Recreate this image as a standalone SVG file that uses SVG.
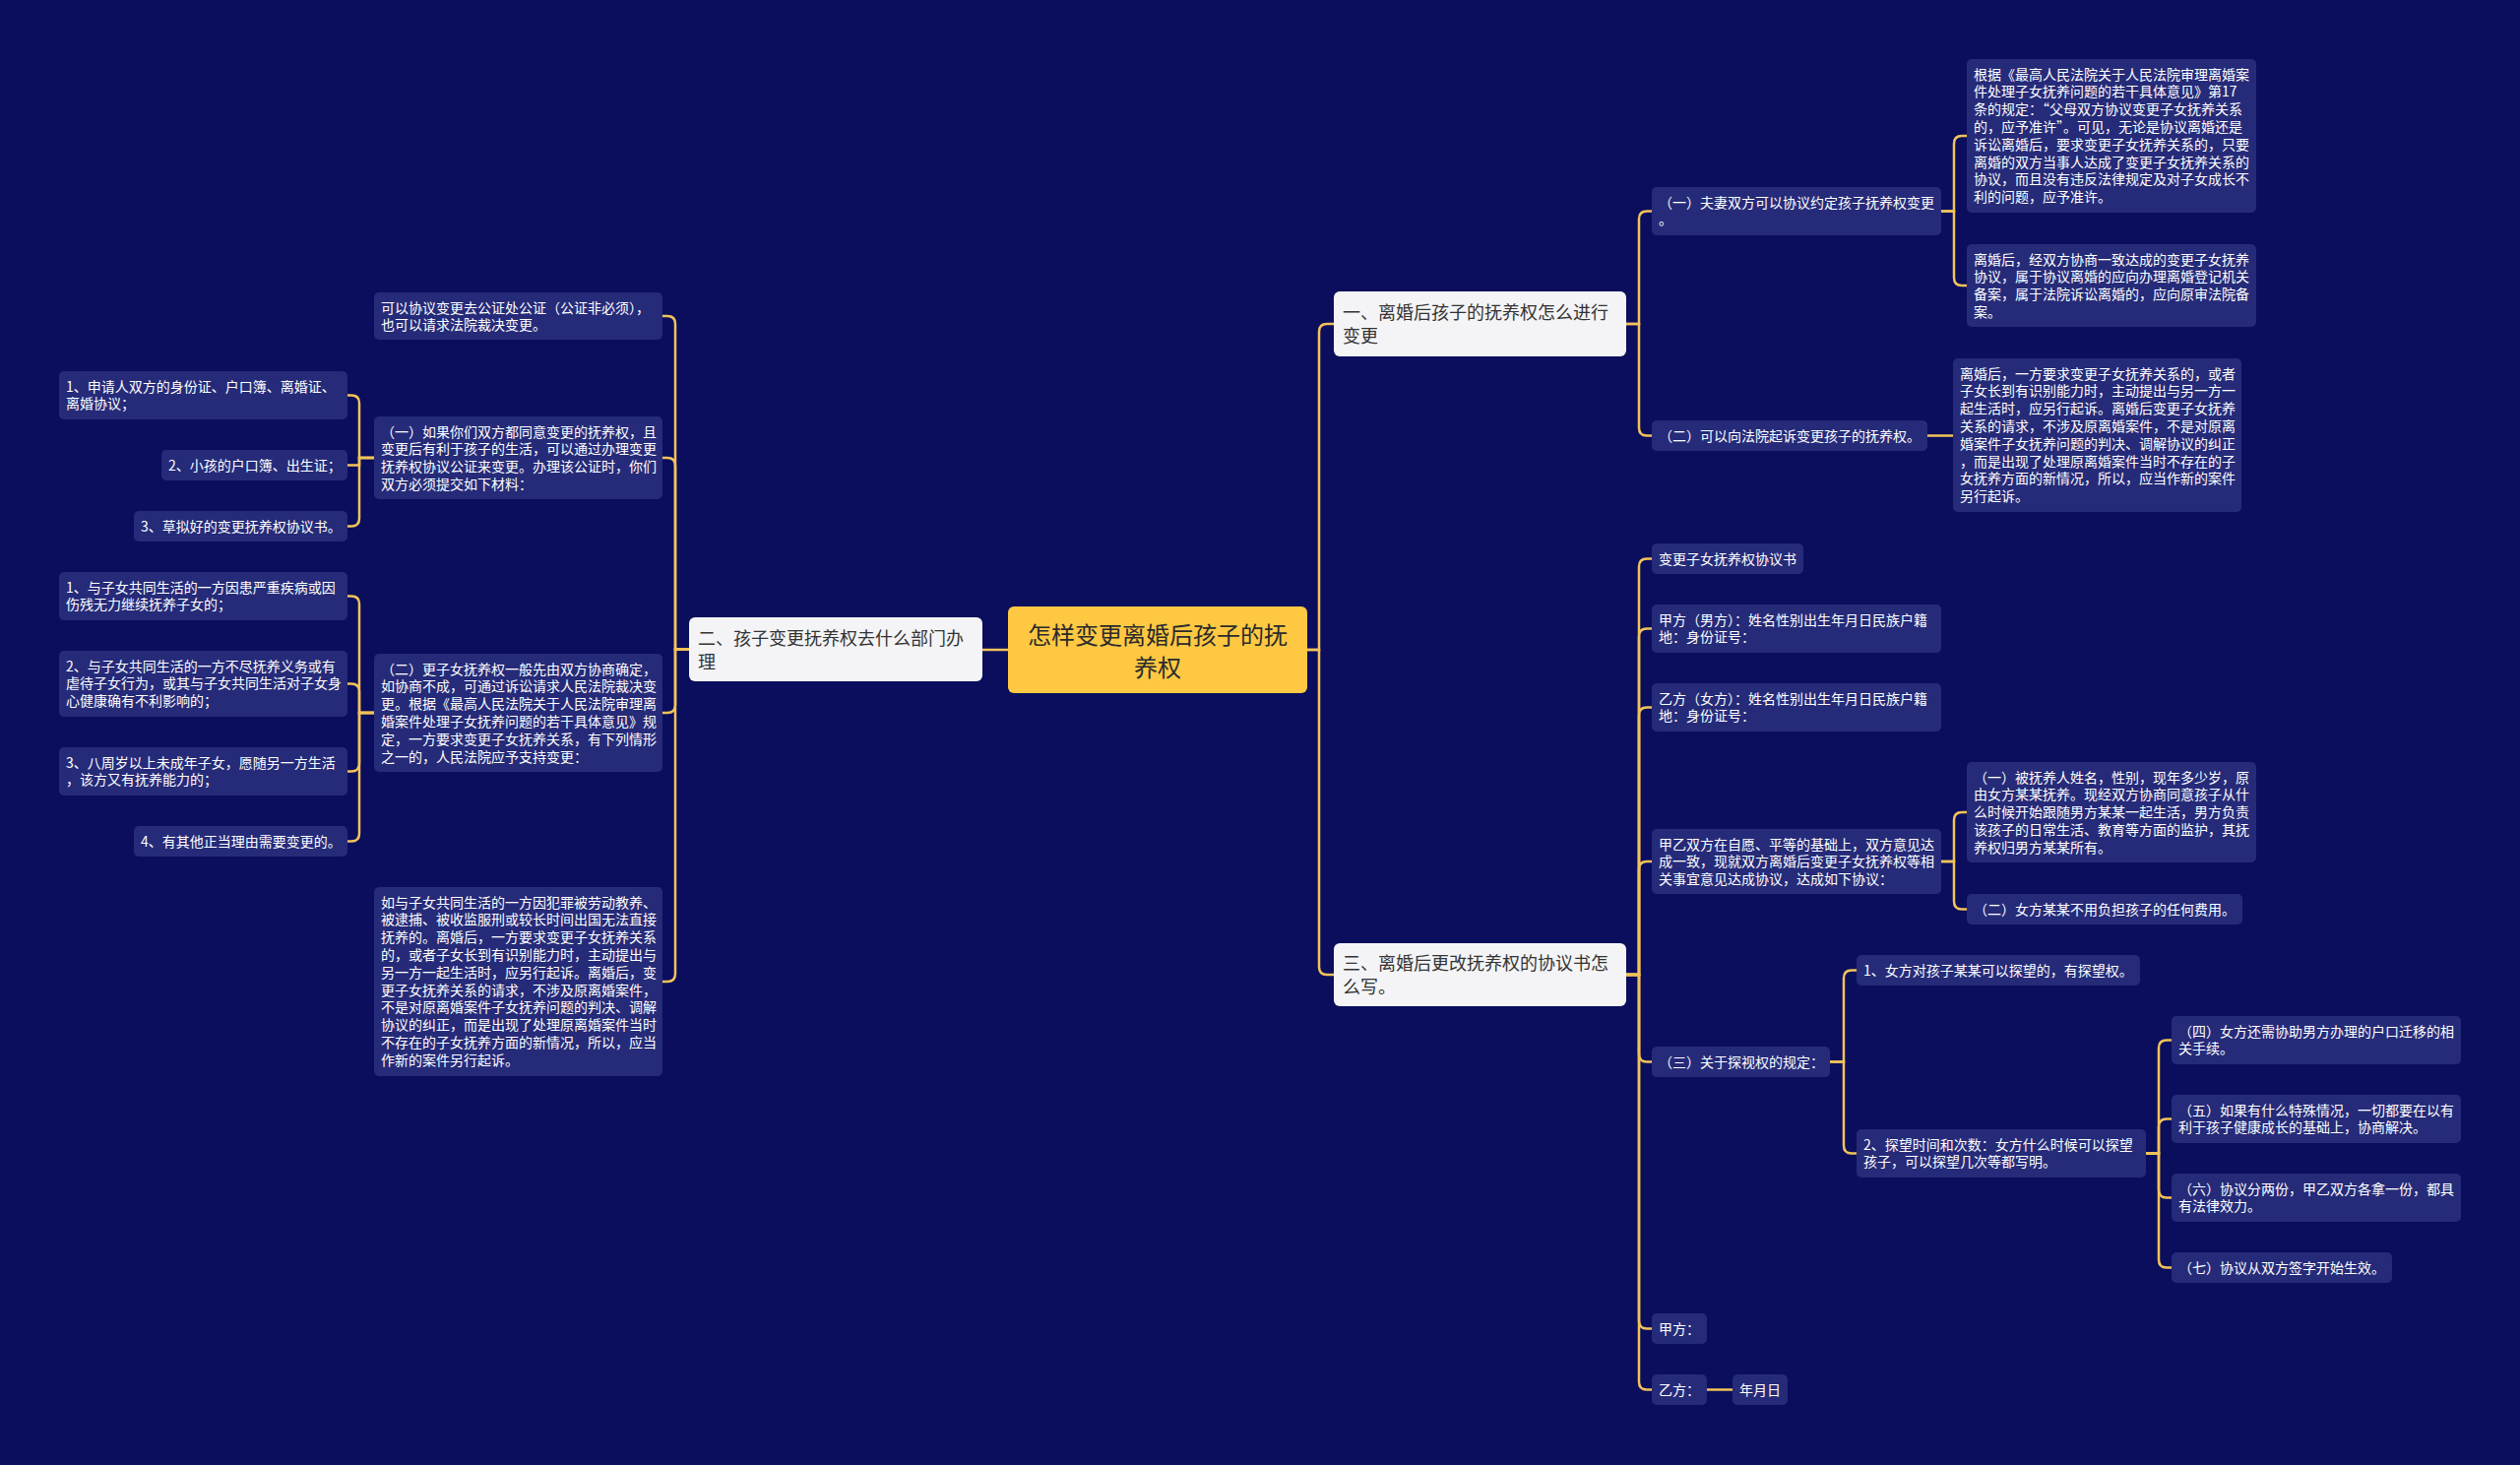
<svg xmlns="http://www.w3.org/2000/svg" width="2560" height="1488" viewBox="0 0 2560 1488">
<style>
.lf{fill:#262b79}
.lt{font-family:"Noto Sans CJK SC","Liberation Sans",sans-serif;font-size:14px;fill:#ffffff}
.con{fill:none;stroke:#f2c35a;stroke-width:2.5}
.mn{fill:#f4f4f6}
.mt{font-family:"Noto Sans CJK SC","Liberation Sans",sans-serif;font-size:18px;fill:#333333}
.rt{font-family:"Noto Sans CJK SC","Liberation Sans",sans-serif;font-size:24px;fill:#2b2b2b}
</style>
<rect x="0" y="0" width="2560" height="1488" fill="#0a0e5c"/>
<g id="connectors">
<path class="con" d="M1024,660 H998"/>
<path class="con" d="M1328,660 H1340 V337 Q1340,329 1348,329 H1355"/>
<path class="con" d="M1328,660 H1340 V982 Q1340,990 1348,990 H1355"/>
<path class="con" d="M700,659.5 H686 V329 Q686,321 678,321 H673"/>
<path class="con" d="M700,659.5 H686 V473 Q686,465 678,465 H673"/>
<path class="con" d="M700,659.5 H686 V716 Q686,724 678,724 H673"/>
<path class="con" d="M700,659.5 H686 V989 Q686,997 678,997 H673"/>
<path class="con" d="M380,465 H365 V409.5 Q365,401.5 357,401.5 H353"/>
<path class="con" d="M380,465 H365 V472.5 H353"/>
<path class="con" d="M380,465 H365 V526.5 Q365,534.5 357,534.5 H353"/>
<path class="con" d="M380,724 H365 V613.5 Q365,605.5 357,605.5 H353"/>
<path class="con" d="M380,724 H365 V702.5 Q365,694.5 357,694.5 H353"/>
<path class="con" d="M380,724 H365 V775.5 Q365,783.5 357,783.5 H353"/>
<path class="con" d="M380,724 H365 V846.5 Q365,854.5 357,854.5 H353"/>
<path class="con" d="M1652,329 H1665 V222.5 Q1665,214.5 1673,214.5 H1678"/>
<path class="con" d="M1652,329 H1665 V434.5 Q1665,442.5 1673,442.5 H1678"/>
<path class="con" d="M1972,214.5 H1985 V146 Q1985,138 1993,138 H1998"/>
<path class="con" d="M1972,214.5 H1985 V282 Q1985,290 1993,290 H1998"/>
<path class="con" d="M1958,442.5 H1984"/>
<path class="con" d="M1652,990 H1665 V575.5 Q1665,567.5 1673,567.5 H1678"/>
<path class="con" d="M1652,990 H1665 V646.5 Q1665,638.5 1673,638.5 H1678"/>
<path class="con" d="M1652,990 H1665 V726.5 Q1665,718.5 1673,718.5 H1678"/>
<path class="con" d="M1652,990 H1665 V883 Q1665,875 1673,875 H1678"/>
<path class="con" d="M1652,990 H1665 V1070.5 Q1665,1078.5 1673,1078.5 H1678"/>
<path class="con" d="M1652,990 H1665 V1341.5 Q1665,1349.5 1673,1349.5 H1678"/>
<path class="con" d="M1652,990 H1665 V1403.5 Q1665,1411.5 1673,1411.5 H1678"/>
<path class="con" d="M1972,875 H1985 V833 Q1985,825 1993,825 H1998"/>
<path class="con" d="M1972,875 H1985 V915.5 Q1985,923.5 1993,923.5 H1998"/>
<path class="con" d="M1859,1078.5 H1873 V993.5 Q1873,985.5 1881,985.5 H1886"/>
<path class="con" d="M1859,1078.5 H1873 V1163.5 Q1873,1171.5 1881,1171.5 H1886"/>
<path class="con" d="M2180,1171.5 H2193 V1064.5 Q2193,1056.5 2201,1056.5 H2206"/>
<path class="con" d="M2180,1171.5 H2193 V1144.5 Q2193,1136.5 2201,1136.5 H2206"/>
<path class="con" d="M2180,1171.5 H2193 V1208.5 Q2193,1216.5 2201,1216.5 H2206"/>
<path class="con" d="M2180,1171.5 H2193 V1279.5 Q2193,1287.5 2201,1287.5 H2206"/>
<path class="con" d="M1734,1411.5 H1760"/>
</g>
<g id="root">
<rect x="1024" y="616" width="304" height="88" rx="6" fill="#fec843"/>
<text class="rt" x="1176" y="654" text-anchor="middle"><tspan x="1176">怎样变更离婚后孩子的抚</tspan><tspan x="1176" dy="33">养权</tspan></text>
</g>
<g id="b2">
<rect class="mn" x="700" y="627" width="298" height="65" rx="6"/>
<text class="mt" x="709" y="655"><tspan x="709">二、孩子变更抚养权去什么部门办</tspan><tspan x="709" dy="24">理</tspan></text>
</g>
<g id="b1">
<rect class="mn" x="1355" y="296" width="297" height="66" rx="6"/>
<text class="mt" x="1364" y="324"><tspan x="1364">一、离婚后孩子的抚养权怎么进行</tspan><tspan x="1364" dy="24">变更</tspan></text>
</g>
<g id="b3">
<rect class="mn" x="1355" y="958" width="297" height="64" rx="6"/>
<text class="mt" x="1364" y="985"><tspan x="1364">三、离婚后更改抚养权的协议书怎</tspan><tspan x="1364" dy="24">么写。</tspan></text>
</g>
<g id="c1">
<rect class="lf" x="380" y="297" width="293" height="48" rx="5"/>
<text class="lt" x="387" y="317.5"><tspan x="387">可以协议变更去公证处公证（公证非必须），</tspan><tspan x="387" dy="17.8">也可以请求法院裁决变更。</tspan></text>
</g>
<g id="c2">
<rect class="lf" x="380" y="423" width="293" height="84" rx="5"/>
<text class="lt" x="387" y="443.5"><tspan x="387">（一）如果你们双方都同意变更的抚养权，且</tspan><tspan x="387" dy="17.8">变更后有利于孩子的生活，可以通过办理变更</tspan><tspan x="387" dy="17.8">抚养权协议公证来变更。办理该公证时，你们</tspan><tspan x="387" dy="17.8">双方必须提交如下材料：</tspan></text>
</g>
<g id="c3">
<rect class="lf" x="380" y="664" width="293" height="120" rx="5"/>
<text class="lt" x="387" y="684.5"><tspan x="387">（二）更子女抚养权一般先由双方协商确定，</tspan><tspan x="387" dy="17.8">如协商不成，可通过诉讼请求人民法院裁决变</tspan><tspan x="387" dy="17.8">更。根据《最高人民法院关于人民法院审理离</tspan><tspan x="387" dy="17.8">婚案件处理子女抚养问题的若干具体意见》规</tspan><tspan x="387" dy="17.8">定，一方要求变更子女抚养关系，有下列情形</tspan><tspan x="387" dy="17.8">之一的，人民法院应予支持变更：</tspan></text>
</g>
<g id="c4">
<rect class="lf" x="380" y="901" width="293" height="192" rx="5"/>
<text class="lt" x="387" y="921.5"><tspan x="387">如与子女共同生活的一方因犯罪被劳动教养、</tspan><tspan x="387" dy="17.8">被逮捕、被收监服刑或较长时间出国无法直接</tspan><tspan x="387" dy="17.8">抚养的。离婚后，一方要求变更子女抚养关系</tspan><tspan x="387" dy="17.8">的，或者子女长到有识别能力时，主动提出与</tspan><tspan x="387" dy="17.8">另一方一起生活时，应另行起诉。离婚后，变</tspan><tspan x="387" dy="17.8">更子女抚养关系的请求，不涉及原离婚案件，</tspan><tspan x="387" dy="17.8">不是对原离婚案件子女抚养问题的判决、调解</tspan><tspan x="387" dy="17.8">协议的纠正，而是出现了处理原离婚案件当时</tspan><tspan x="387" dy="17.8">不存在的子女抚养方面的新情况，所以，应当</tspan><tspan x="387" dy="17.8">作新的案件另行起诉。</tspan></text>
</g>
<g id="i1">
<rect class="lf" x="60" y="377" width="293" height="49" rx="5"/>
<text class="lt" x="67" y="397.5"><tspan x="67">1、申请人双方的身份证、户口簿、离婚证、</tspan><tspan x="67" dy="17.8">离婚协议；</tspan></text>
</g>
<g id="i2">
<rect class="lf" x="164" y="457" width="189" height="31" rx="5"/>
<text class="lt" x="171" y="477.5">2、小孩的户口簿、出生证；</text>
</g>
<g id="i3">
<rect class="lf" x="136" y="519" width="217" height="31" rx="5"/>
<text class="lt" x="143" y="539.5">3、草拟好的变更抚养权协议书。</text>
</g>
<g id="j1">
<rect class="lf" x="60" y="581" width="293" height="49" rx="5"/>
<text class="lt" x="67" y="601.5"><tspan x="67">1、与子女共同生活的一方因患严重疾病或因</tspan><tspan x="67" dy="17.8">伤残无力继续抚养子女的；</tspan></text>
</g>
<g id="j2">
<rect class="lf" x="60" y="661" width="293" height="67" rx="5"/>
<text class="lt" x="67" y="681.5"><tspan x="67">2、与子女共同生活的一方不尽抚养义务或有</tspan><tspan x="67" dy="17.8">虐待子女行为，或其与子女共同生活对子女身</tspan><tspan x="67" dy="17.8">心健康确有不利影响的；</tspan></text>
</g>
<g id="j3">
<rect class="lf" x="60" y="759" width="293" height="49" rx="5"/>
<text class="lt" x="67" y="779.5"><tspan x="67">3、八周岁以上未成年子女，愿随另一方生活</tspan><tspan x="67" dy="17.8">，该方又有抚养能力的；</tspan></text>
</g>
<g id="j4">
<rect class="lf" x="136" y="839" width="217" height="31" rx="5"/>
<text class="lt" x="143" y="859.5">4、有其他正当理由需要变更的。</text>
</g>
<g id="b1c1">
<rect class="lf" x="1678" y="190" width="294" height="49" rx="5"/>
<text class="lt" x="1685" y="210.5"><tspan x="1685">（一）夫妻双方可以协议约定孩子抚养权变更</tspan><tspan x="1685" dy="17.8">。</tspan></text>
</g>
<g id="b1c2">
<rect class="lf" x="1678" y="427" width="280" height="31" rx="5"/>
<text class="lt" x="1685" y="447.5">（二）可以向法院起诉变更孩子的抚养权。</text>
</g>
<g id="b1c1a">
<rect class="lf" x="1998" y="60" width="294" height="156" rx="5"/>
<text class="lt" x="2005" y="80.5"><tspan x="2005">根据《最高人民法院关于人民法院审理离婚案</tspan><tspan x="2005" dy="17.8">件处理子女抚养问题的若干具体意见》第17</tspan><tspan x="2005" dy="17.8">条的规定：“父母双方协议变更子女抚养关系</tspan><tspan x="2005" dy="17.8">的，应予准许”。可见，无论是协议离婚还是</tspan><tspan x="2005" dy="17.8">诉讼离婚后，要求变更子女抚养关系的，只要</tspan><tspan x="2005" dy="17.8">离婚的双方当事人达成了变更子女抚养关系的</tspan><tspan x="2005" dy="17.8">协议，而且没有违反法律规定及对子女成长不</tspan><tspan x="2005" dy="17.8">利的问题，应予准许。</tspan></text>
</g>
<g id="b1c1b">
<rect class="lf" x="1998" y="248" width="294" height="84" rx="5"/>
<text class="lt" x="2005" y="268.5"><tspan x="2005">离婚后，经双方协商一致达成的变更子女抚养</tspan><tspan x="2005" dy="17.8">协议，属于协议离婚的应向办理离婚登记机关</tspan><tspan x="2005" dy="17.8">备案，属于法院诉讼离婚的，应向原审法院备</tspan><tspan x="2005" dy="17.8">案。</tspan></text>
</g>
<g id="b1c2a">
<rect class="lf" x="1984" y="364" width="293" height="156" rx="5"/>
<text class="lt" x="1991" y="384.5"><tspan x="1991">离婚后，一方要求变更子女抚养关系的，或者</tspan><tspan x="1991" dy="17.8">子女长到有识别能力时，主动提出与另一方一</tspan><tspan x="1991" dy="17.8">起生活时，应另行起诉。离婚后变更子女抚养</tspan><tspan x="1991" dy="17.8">关系的请求，不涉及原离婚案件，不是对原离</tspan><tspan x="1991" dy="17.8">婚案件子女抚养问题的判决、调解协议的纠正</tspan><tspan x="1991" dy="17.8">，而是出现了处理原离婚案件当时不存在的子</tspan><tspan x="1991" dy="17.8">女抚养方面的新情况，所以，应当作新的案件</tspan><tspan x="1991" dy="17.8">另行起诉。</tspan></text>
</g>
<g id="b3c1">
<rect class="lf" x="1678" y="552" width="154" height="31" rx="5"/>
<text class="lt" x="1685" y="572.5">变更子女抚养权协议书</text>
</g>
<g id="b3c2">
<rect class="lf" x="1678" y="614" width="294" height="49" rx="5"/>
<text class="lt" x="1685" y="634.5"><tspan x="1685">甲方（男方）：姓名性别出生年月日民族户籍</tspan><tspan x="1685" dy="17.8">地：身份证号：</tspan></text>
</g>
<g id="b3c3">
<rect class="lf" x="1678" y="694" width="294" height="49" rx="5"/>
<text class="lt" x="1685" y="714.5"><tspan x="1685">乙方（女方）：姓名性别出生年月日民族户籍</tspan><tspan x="1685" dy="17.8">地：身份证号：</tspan></text>
</g>
<g id="b3c4">
<rect class="lf" x="1678" y="842" width="294" height="66" rx="5"/>
<text class="lt" x="1685" y="862.5"><tspan x="1685">甲乙双方在自愿、平等的基础上，双方意见达</tspan><tspan x="1685" dy="17.8">成一致，现就双方离婚后变更子女抚养权等相</tspan><tspan x="1685" dy="17.8">关事宜意见达成协议，达成如下协议：</tspan></text>
</g>
<g id="b3c4a">
<rect class="lf" x="1998" y="774" width="294" height="102" rx="5"/>
<text class="lt" x="2005" y="794.5"><tspan x="2005">（一）被抚养人姓名，性别，现年多少岁，原</tspan><tspan x="2005" dy="17.8">由女方某某抚养。现经双方协商同意孩子从什</tspan><tspan x="2005" dy="17.8">么时候开始跟随男方某某一起生活，男方负责</tspan><tspan x="2005" dy="17.8">该孩子的日常生活、教育等方面的监护，其抚</tspan><tspan x="2005" dy="17.8">养权归男方某某所有。</tspan></text>
</g>
<g id="b3c4b">
<rect class="lf" x="1998" y="908" width="280" height="31" rx="5"/>
<text class="lt" x="2005" y="928.5">（二）女方某某不用负担孩子的任何费用。</text>
</g>
<g id="b3c5">
<rect class="lf" x="1678" y="1063" width="181" height="31" rx="5"/>
<text class="lt" x="1685" y="1083.5">（三）关于探视权的规定：</text>
</g>
<g id="p1">
<rect class="lf" x="1886" y="970" width="288" height="31" rx="5"/>
<text class="lt" x="1893" y="990.5">1、女方对孩子某某可以探望的，有探望权。</text>
</g>
<g id="p2">
<rect class="lf" x="1886" y="1147" width="294" height="49" rx="5"/>
<text class="lt" x="1893" y="1167.5"><tspan x="1893">2、探望时间和次数：女方什么时候可以探望</tspan><tspan x="1893" dy="17.8">孩子，可以探望几次等都写明。</tspan></text>
</g>
<g id="q4">
<rect class="lf" x="2206" y="1032" width="294" height="49" rx="5"/>
<text class="lt" x="2213" y="1052.5"><tspan x="2213">（四）女方还需协助男方办理的户口迁移的相</tspan><tspan x="2213" dy="17.8">关手续。</tspan></text>
</g>
<g id="q5">
<rect class="lf" x="2206" y="1112" width="294" height="49" rx="5"/>
<text class="lt" x="2213" y="1132.5"><tspan x="2213">（五）如果有什么特殊情况，一切都要在以有</tspan><tspan x="2213" dy="17.8">利于孩子健康成长的基础上，协商解决。</tspan></text>
</g>
<g id="q6">
<rect class="lf" x="2206" y="1192" width="294" height="49" rx="5"/>
<text class="lt" x="2213" y="1212.5"><tspan x="2213">（六）协议分两份，甲乙双方各拿一份，都具</tspan><tspan x="2213" dy="17.8">有法律效力。</tspan></text>
</g>
<g id="q7">
<rect class="lf" x="2206" y="1272" width="224" height="31" rx="5"/>
<text class="lt" x="2213" y="1292.5">（七）协议从双方签字开始生效。</text>
</g>
<g id="jia">
<rect class="lf" x="1678" y="1334" width="56" height="31" rx="5"/>
<text class="lt" x="1685" y="1354.5">甲方：</text>
</g>
<g id="yi">
<rect class="lf" x="1678" y="1396" width="56" height="31" rx="5"/>
<text class="lt" x="1685" y="1416.5">乙方：</text>
</g>
<g id="date">
<rect class="lf" x="1760" y="1396" width="56" height="31" rx="5"/>
<text class="lt" x="1767" y="1416.5">年月日</text>
</g>
</svg>
